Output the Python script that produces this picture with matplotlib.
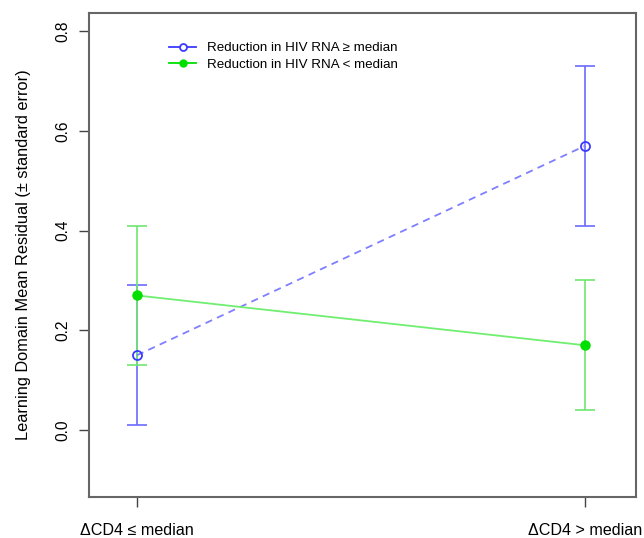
import matplotlib.pyplot as plt

plt.rcParams['font.family'] = ['Liberation Sans', 'DejaVu Sans']

# data
groups = ['\u0394CD4 \u2264 median', '\u0394CD4 > median']
x_pos = [1, 2]
high_mean = [0.15, 0.57]   # Reduction in HIV RNA >= median
high_se = [0.14, 0.16]
low_mean = [0.27, 0.17]    # Reduction in HIV RNA < median
low_se = [0.14, 0.13]
y_ticks = [0.0, 0.2, 0.4, 0.6, 0.8]

fig = plt.figure(figsize=(6.44, 5.38), dpi=100)
ax = fig.add_axes([0.138, 0.0762, 0.850, 0.8996])

# error bars
ax.errorbar(x_pos, high_mean, yerr=high_se, fmt='none', ecolor='#6b6bff',
            elinewidth=1.2, capsize=7, capthick=1.2)
ax.errorbar(x_pos, low_mean, yerr=low_se, fmt='none', ecolor='#6ee86e',
            elinewidth=1.2, capsize=7, capthick=1.2)

# connecting lines
ax.plot(x_pos, high_mean, color='#7f7fff', lw=1.3, ls=(0, (4, 3)))
ax.plot(x_pos, low_mean, color='#70ee70', lw=1.3)

# markers
ax.plot(x_pos, high_mean, 'o', mfc='none', mec='#3a3aff', ms=6.5, mew=1.3)
ax.plot(x_pos, low_mean, 'o', color='#00e000', ms=6.5)

# legend handles
ax.plot([], [], '-o', color='#3a3aff', mfc='white', mec='#3a3aff', ms=5,
        mew=1.3, lw=1.3, label='Reduction in HIV RNA \u2265 median')
ax.plot([], [], '-o', color='#00e000', ms=5, lw=1.3,
        label='Reduction in HIV RNA < median')
ax.legend(loc='upper left', bbox_to_anchor=(0.125, 0.965), frameon=False,
          fontsize=9.6, handlelength=2.0, labelspacing=0.3, handletextpad=0.8)

ax.set_xlim(0.893, 2.114)
ax.set_ylim(-0.134, 0.836)
ax.set_xticks(x_pos)
ax.set_xticklabels(groups, fontsize=11.6)
ax.set_yticks(y_ticks)
ax.set_yticklabels([f'{v:.1f}' for v in y_ticks], rotation=90, va='center',
                   fontsize=11.2)
ax.tick_params(axis='both', length=7, width=1, color='#444444')
ax.tick_params(axis='x', pad=12)
ax.tick_params(axis='y', pad=6)
for s in ax.spines.values():
    s.set_color('#666666')
    s.set_linewidth(1.5)
ax.set_ylabel('Learning Domain Mean Residual (\u00b1 standard error)',
              fontsize=11.8, labelpad=18)

fig.savefig('out.png', dpi=100)
